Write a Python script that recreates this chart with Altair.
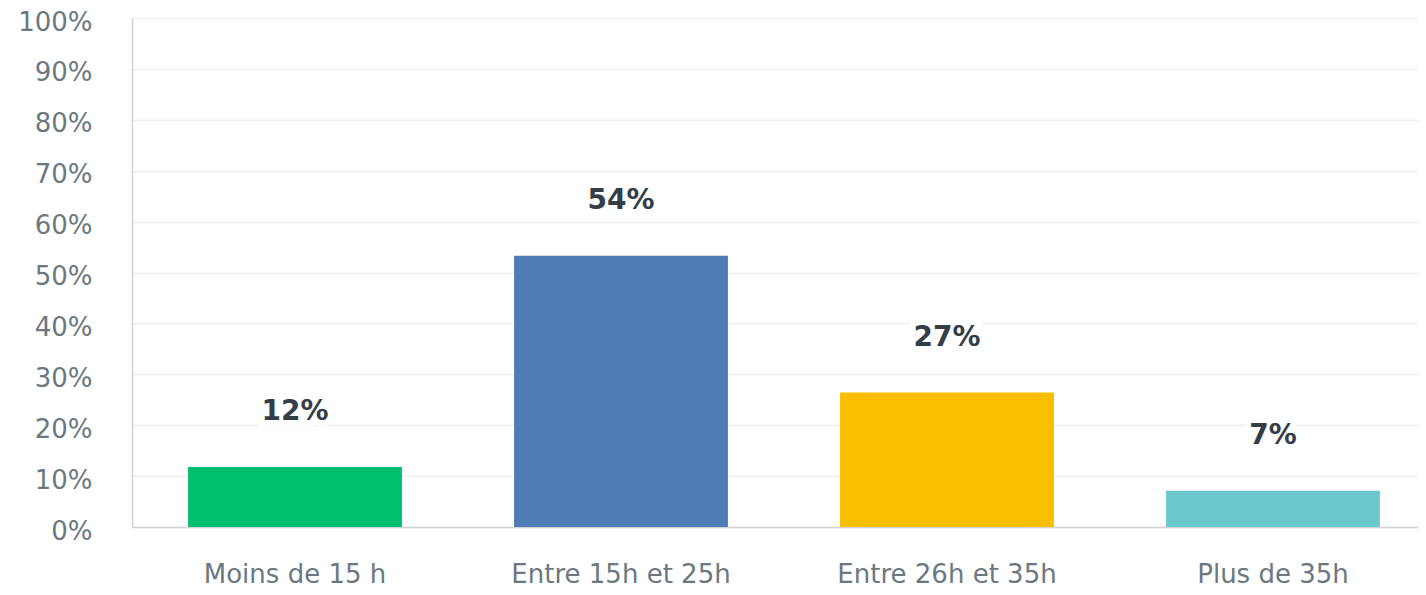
import altair as alt
import pandas as pd

categories = ["Moins de 15 h", "Entre 15h et 25h", "Entre 26h et 35h", "Plus de 35h"]
values = [11.8, 53.3, 26.4, 7.1]
colors = ["#00BF6F", "#507CB6", "#F9BE00", "#6BC8CD"]
labels = ["12%", "54%", "27%", "7%"]

df = pd.DataFrame({"cat": categories, "val": values, "lab": labels})

FONT = "DejaVu Sans"

x = alt.X("cat:N", sort=categories, title=None,
          scale=alt.Scale(paddingInner=0.344, paddingOuter=0.172, range=[0, 1304]),
          axis=alt.Axis(labelAngle=0, labelFont=FONT, labelFontSize=26, labelColor="#6B787F",
                        labelPadding=55, labelLimit=500, ticks=False, domainColor="#D0D2D3",
                        domainWidth=1.5, labelBaseline="alphabetic"))
y = alt.Y("val:Q", title=None,
          scale=alt.Scale(domain=[0, 100], nice=False),
          axis=alt.Axis(values=list(range(0, 101, 10)), labelExpr="datum.value + '%'",
                        labelFont=FONT, labelFontSize=26, labelColor="#6B787F", labelPadding=40,
                        labelOffset=4, labelLimit=300,
                        ticks=False, domainColor="#D0D2D3", domainWidth=1.5,
                        gridColor="#EDEEEE", gridWidth=1.5))

base = alt.Chart(df)

bars = base.mark_bar().encode(
    x=x, y=y,
    color=alt.Color("cat:N", sort=categories,
                    scale=alt.Scale(domain=categories, range=colors), legend=None),
)

halo = base.mark_text(dy=-55, baseline="middle", font=FONT, fontSize=28, fontWeight="bold",
                      stroke="white", strokeWidth=12, fill="white").encode(x=x, y=y, text="lab:N")
text = base.mark_text(dy=-55, baseline="middle", font=FONT, fontSize=28, fontWeight="bold",
                      color="#333E48").encode(x=x, y=y, text="lab:N")

chart = alt.layer(bars, halo, text).properties(
    width=1286, height=509,
    autosize=alt.AutoSizeParams(type="none"),
    padding={"left": 124, "top": 10, "right": 0, "bottom": 60},
).configure_view(stroke=None)

chart.save("out.html", embed_options={"renderer": "svg", "actions": False})
